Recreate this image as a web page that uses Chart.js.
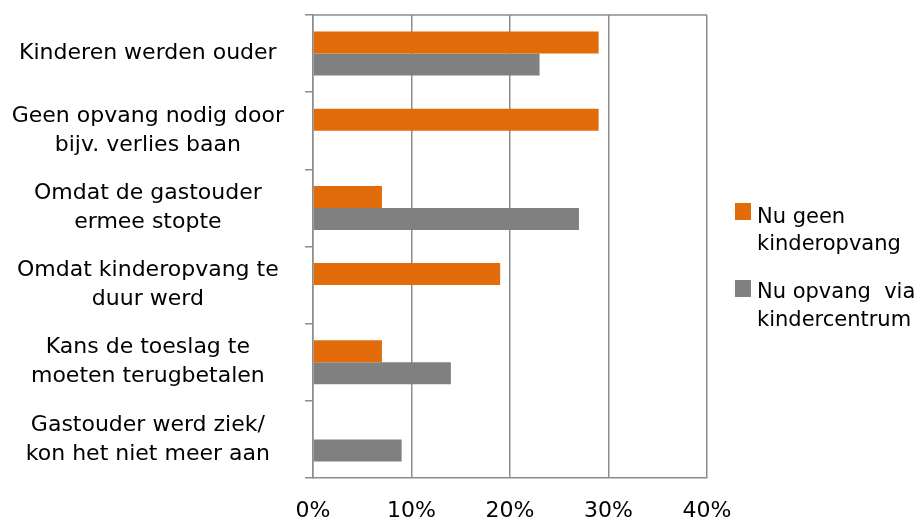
<!DOCTYPE html>
<html>
<head>
<meta charset="utf-8">
<script src="https://cdn.jsdelivr.net/npm/chart.js@4"></script>
<style>
  html, body { margin: 0; padding: 0; background: #fff; }
  #wrap { width: 919px; height: 524px; }
</style>
</head>
<body>
<div id="wrap"><canvas id="chart" width="919" height="524"></canvas></div>
<script>
const categories = [
  ["Kinderen werden ouder"],
  ["Geen opvang nodig door", "bijv. verlies baan"],
  ["Omdat de gastouder", "ermee stopte"],
  ["Omdat kinderopvang te", "duur werd"],
  ["Kans de toeslag te", "moeten terugbetalen"],
  ["Gastouder werd ziek/", "kon het niet meer aan"]
];
const geenOpvang = [29, 29, 7, 19, 7, 0];
const opvangKindercentrum = [23, 0, 27, 0, 14, 9];
const seriesNames = [["Nu geen", "kinderopvang"], ["Nu opvang  via", "kindercentrum"]];
const xTicks = [0, 10, 20, 30, 40];

const orange = "#E36C0A";
const grey = "#808080";
const lineGrey = "#8c8c8c";
const font = "DejaVu Sans";

// plot border + legend drawn by hand (multi-line labels)
const extras = {
  id: "extras",
  afterDatasetsDraw(chart) {
    const { ctx, chartArea: a } = chart;
    ctx.save();
    ctx.strokeStyle = lineGrey;
    ctx.lineWidth = 1.5;
    ctx.beginPath();
    ctx.moveTo(a.left, a.top);
    ctx.lineTo(a.right, a.top);
    ctx.stroke();
    ctx.restore();
  },
  afterDraw(chart) {
    const ctx = chart.ctx;
    const spots = [{ y: 203, base: [223, 250] }, { y: 280, base: [298, 326] }];
    ctx.save();
    ctx.font = "21px '" + font + "'";
    ctx.textBaseline = "alphabetic";
    chart.data.datasets.forEach((ds, i) => {
      const s = spots[i];
      ctx.fillStyle = ds.backgroundColor;
      ctx.fillRect(735, s.y, 16, 17);
      ctx.fillStyle = "#000";
      seriesNames[i].forEach((t, j) => ctx.fillText(t, 757, s.base[j]));
    });
    ctx.restore();
  }
};

new Chart(document.getElementById("chart"), {
  type: "bar",
  data: {
    labels: categories,
    datasets: [
      { label: "Nu geen kinderopvang", data: geenOpvang, backgroundColor: orange },
      { label: "Nu opvang via kindercentrum", data: opvangKindercentrum, backgroundColor: grey }
    ]
  },
  options: {
    indexAxis: "y",
    responsive: false,
    animation: false,
    categoryPercentage: 0.57,
    barPercentage: 1,
    layout: { padding: { top: 15, right: 212, bottom: 0, left: 0 } },
    plugins: { legend: { display: false }, tooltip: { enabled: false } },
    scales: {
      x: {
        min: 0,
        max: 40,
        afterBuildTicks(scale) { scale.ticks = xTicks.map(v => ({ value: v })); },
        afterFit(scale) { scale.height = 46; },
        ticks: {
          callback: v => v + "%",
          color: "#000",
          padding: 20,
          font: { family: font, size: 22 }
        },
        grid: { color: lineGrey, lineWidth: 1.5, drawTicks: false },
        border: { display: true, color: lineGrey, width: 1.5 }
      },
      y: {
        afterFit(scale) {
          scale.width = 313;
          scale.paddingTop = 0;
          scale.paddingBottom = 0;
        },
        ticks: {
          crossAlign: "center",
          color: "#000",
          padding: 21,
          font: { family: font, size: 22, lineHeight: 1.32 }
        },
        grid: { offset: true, drawOnChartArea: false, tickLength: 8, color: lineGrey, lineWidth: 1.5 },
        border: { display: true, color: lineGrey, width: 1.5 }
      }
    }
  },
  plugins: [extras]
});
</script>
</body>
</html>
